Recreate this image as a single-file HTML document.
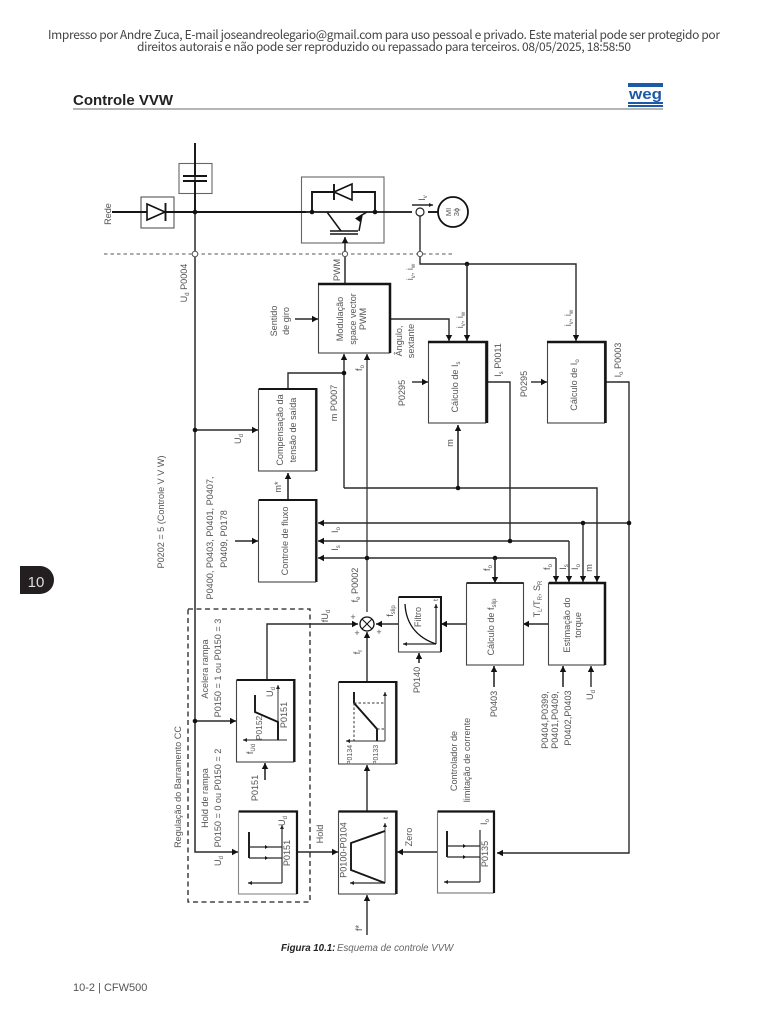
<!DOCTYPE html>
<html><head><meta charset="utf-8"><title>Controle VVW</title>
<style>
html,body{margin:0;padding:0;background:#fff}
svg{display:block}
.w{fill:none;stroke:#2a2a2a;stroke-width:1.4}
.t{fill:none;stroke:#151515;stroke-width:1.9}
.b{fill:#fff;stroke:#444;stroke-width:1.1}
.k{fill:#111;stroke:none}
text{font-family:"Liberation Sans",sans-serif;fill:#555;font-size:9.1px}
.c{text-anchor:middle}
</style></head><body>
<svg width="768" height="1024" viewBox="0 0 768 1024" xmlns="http://www.w3.org/2000/svg">
<defs>
<marker id="a" markerUnits="userSpaceOnUse" markerWidth="8" markerHeight="7" refX="6" refY="3.5" orient="auto"><path d="M0 0.300L6 3.500L0 6.700Z" fill="#111"/></marker>
<marker id="s" markerUnits="userSpaceOnUse" markerWidth="5" markerHeight="5" refX="4" refY="2.5" orient="auto"><path d="M0 0.500L4 2.500L0 4.500Z" fill="#222"/></marker>
</defs>

<!-- header -->
<text x="48" y="39" textLength="672" lengthAdjust="spacing" style='font-family:"Noto Sans CJK SC","Liberation Sans",sans-serif;font-size:12px;fill:#444'>Impresso por Andre Zuca, E-mail joseandreolegario@gmail.com para uso pessoal e privado. Este material pode ser protegido por</text>
<text x="137" y="51" textLength="494" lengthAdjust="spacing" style='font-family:"Noto Sans CJK SC","Liberation Sans",sans-serif;font-size:12px;fill:#444'>direitos autorais e não pode ser reproduzido ou repassado para terceiros. 08/05/2025, 18:58:50</text>
<text x="73" y="105" textLength="100" lengthAdjust="spacingAndGlyphs" style="font-size:14.500px;font-weight:bold;fill:#222">Controle VVW</text>
<rect x="73" y="108" width="590" height="2" fill="#b5b5b5"/>
<rect x="628" y="83" width="35" height="4" fill="#1c5aa8"/>
<rect x="628" y="102" width="35" height="2" fill="#1c5aa8"/>
<rect x="628" y="105" width="35" height="2" fill="#1c5aa8"/>
<text x="645.5" y="99" class="c" textLength="33" lengthAdjust="spacingAndGlyphs" style="font-size:15px;font-weight:bold;fill:#1c5aa8">weg</text>

<!-- side tab -->
<path d="M20 566H40A14 14 0 0 1 54 580A14 14 0 0 1 40 594H20Z" fill="#231f20"/>
<text x="36" y="587" class="c" style="font-size:15px;fill:#ddd">10</text>

<!-- dashed lines -->
<path d="M104 254H455" fill="none" stroke="#555" stroke-width="1" stroke-dasharray="3.5 3"/>
<rect x="188" y="609" width="122" height="293" fill="none" stroke="#222" stroke-width="1.3" stroke-dasharray="5 3.5"/>

<!-- power boxes -->
<rect x="179" y="163.500" width="33" height="30" class="b" style="stroke:#666"/>
<rect x="141" y="197" width="33" height="31" class="b" style="stroke:#555"/>
<rect x="301.500" y="177" width="82.500" height="66" class="b" style="stroke:#666"/>

<!-- main wires -->
<path d="M195 143V852H238" class="w" style="stroke-width:1.500" marker-end="url(#a)"/>
<path d="M112 212H306" class="t"/>
<path d="M306 212H412" class="t" style="stroke-width:1.7"/>
<path d="M428 212H438" class="t"/>
<!-- capacitor -->
<path d="M183 176H207M183 181H207" class="t"/>
<path d="M195 143V176M195 181V212" class="t"/>
<!-- diode -->
<path d="M147 204L165 212L147 220Z" fill="#fff" stroke="#111" stroke-width="1.6"/>
<path d="M165.500 203V221" class="t"/>
<circle cx="195" cy="212" r="2.300" class="k"/>
<circle cx="195" cy="254" r="2.800" fill="#fff" stroke="#555"/>

<!-- IGBT -->
<path d="M312 212V192H334M352 192H375V212" class="t"/>
<path d="M334 192L352 184V200Z" fill="#fff" stroke="#111" stroke-width="1.6"/>
<path d="M334 184V200" class="t"/>
<circle cx="312" cy="212" r="2.300" class="k"/><circle cx="375" cy="212" r="2.300" class="k"/>
<path d="M327 212L341 231M359 231L362 215L367 212" class="t" style="stroke-width:1.500"/>
<path d="M362 214L355 218.500L360 222Z" class="k"/>
<path d="M330 231H358M330 234H358" class="t" style="stroke-width:1.500"/>
<path d="M345 283V237" class="w" style="stroke-width:1.500" marker-end="url(#a)"/>
<circle cx="345" cy="254" r="2.600" fill="#fff" stroke="#555"/>

<!-- motor -->
<circle cx="420" cy="212" r="4" fill="#fff" stroke="#222" stroke-width="1.200"/>
<circle cx="453" cy="212" r="15" fill="#fff" stroke="#111" stroke-width="1.800"/>
<path d="M412 205H433" class="w" marker-end="url(#s)"/>
<path d="M420 216V264H576V341" class="w" marker-end="url(#a)"/>
<circle cx="420" cy="254" r="2.600" fill="#fff" stroke="#555"/>
<circle cx="467" cy="264" r="2.300" class="k"/>
<path d="M467 264V341" class="w" style="stroke-width:1.600" marker-end="url(#a)"/>
<path d="M390 319H449V341" class="w" marker-end="url(#a)"/>
<path d="M295 319H318" class="w" marker-end="url(#a)"/>

<!-- other wires -->
<path d="M288 389V373H344" class="w"/>
<path d="M344 488V354" class="w" marker-end="url(#a)"/>
<circle cx="344" cy="373" r="2.300" class="k"/>
<path d="M367 612V354" class="w" style="stroke:#444" marker-end="url(#a)"/>
<path d="M344 488H597V582" class="w" marker-end="url(#a)"/>
<path d="M458 488V425" class="w" style="stroke-width:1.600" marker-end="url(#a)"/>
<circle cx="458" cy="488" r="2.300" class="k"/>
<path d="M195 430H258" class="w" marker-end="url(#a)"/>
<circle cx="195" cy="430" r="2.300" class="k"/>
<path d="M288 500V473" class="w" style="stroke-width:1.600" marker-end="url(#a)"/>
<path d="M235 541H258" class="w" marker-end="url(#a)"/>
<path d="M488 382H510V541" class="w"/>
<path d="M606 382H629V853H497" class="w" marker-end="url(#a)"/>
<path d="M412 382H428" class="w" marker-end="url(#a)"/>
<path d="M531 382H547" class="w" marker-end="url(#a)"/>
<path d="M629 523H318" class="w" style="stroke-width:1.600" marker-end="url(#a)"/>
<path d="M583 523V582" class="w" marker-end="url(#a)"/>
<circle cx="583" cy="523" r="2.300" class="k"/><circle cx="629" cy="523" r="2.300" class="k"/>
<path d="M569 541H318" class="w" marker-end="url(#a)"/>
<path d="M569 541V582" class="w" marker-end="url(#a)"/>
<circle cx="510" cy="541" r="2.300" class="k"/>
<path d="M556 558H318" class="w" marker-end="url(#a)"/>
<path d="M556 558V582" class="w" marker-end="url(#a)"/>
<circle cx="367" cy="558" r="2.300" class="k"/>
<circle cx="495" cy="558" r="2.300" class="k"/>
<path d="M495 558V583" class="w" style="stroke-width:1.600" marker-end="url(#a)"/>
<path d="M267 680V624H358" class="w" marker-end="url(#a)"/>
<path d="M398 624H376" class="w" marker-end="url(#a)"/>
<path d="M466 624H441" class="w" marker-end="url(#a)"/>
<path d="M548 624H523" class="w" marker-end="url(#a)"/>
<path d="M494 687V666" class="w" style="stroke-width:1.600" marker-end="url(#a)"/>
<path d="M563 687V666" class="w" style="stroke-width:1.600" marker-end="url(#a)"/>
<path d="M591 687V666" class="w" marker-end="url(#a)"/>
<path d="M419 663V653" class="w" style="stroke-width:1.600" marker-end="url(#a)"/>
<path d="M195 721H236" class="w" marker-end="url(#a)"/>
<circle cx="195" cy="721" r="2.300" class="k"/>
<path d="M265 780V763" class="w" style="stroke-width:1.600" marker-end="url(#a)"/>
<path d="M297 852H338" class="w" style="stroke-width:1.600" marker-end="url(#a)"/>
<path d="M437 852H397" class="w" marker-end="url(#a)"/>
<path d="M367 811V765" class="w" marker-end="url(#a)"/>
<path d="M367 682V632" class="w" marker-end="url(#a)"/>
<path d="M367 935V895" class="w" marker-end="url(#a)"/>
<circle cx="367" cy="624" r="7" fill="#fff" stroke="#111" stroke-width="1.300"/>
<path d="M362 619L372 629M372 619L362 629" stroke="#111" stroke-width="1.100"/>

<!-- blocks: thin box + thick top and right -->
<g>
<rect x="318.500" y="284" width="71" height="69" class="b"/><path d="M318 284H390V353" class="t" style="stroke-width:2.500"/>
<rect x="428.500" y="342" width="57" height="81" class="b"/><path d="M428 342H487V423" class="t" style="stroke-width:2.500"/>
<rect x="547.500" y="342" width="57" height="81" class="b"/><path d="M547 342H605.500V423" class="t" style="stroke-width:2.500"/>
<rect x="258.500" y="389" width="57" height="82" class="b"/><path d="M259 389H316.500V471" class="t" style="stroke-width:2"/>
<rect x="258.500" y="500" width="57" height="82" class="b"/><path d="M259 500H316.500V582" class="t" style="stroke-width:2"/>
<rect x="466.500" y="583" width="57" height="82" class="b"/><path d="M467 583H523.500" class="t" style="stroke-width:1.800"/>
<rect x="548.500" y="583" width="56" height="82" class="b"/><path d="M549 583H605V665" class="t" style="stroke-width:2.500"/>
<rect x="398.500" y="597" width="42" height="55" class="b"/><path d="M399 597H441V652" class="t" style="stroke-width:2"/>
<rect x="236.500" y="680" width="57" height="82" class="b"/><path d="M237 680H294.500V762" class="t" style="stroke-width:2"/>
<rect x="338.500" y="682" width="57" height="82" class="b"/><path d="M339 682H396.500V764" class="t" style="stroke-width:2"/>
<rect x="238.500" y="811" width="58" height="83" class="b" style="stroke:#888"/><path d="M239 811.500H297V894" class="t" style="stroke-width:2.200"/>
<rect x="338.500" y="811" width="57" height="83" class="b"/><path d="M339 811.500H396.500V894" class="t" style="stroke-width:2.200"/>
<rect x="437.500" y="811" width="56" height="82" class="b" style="stroke:#777"/><path d="M438 811.500H494V893" class="t" style="stroke-width:2.200"/>
</g>

<!-- mini graphs -->
<!-- hold -->
<path d="M282 883H248" class="w" style="stroke-width:1.200" marker-end="url(#s)"/><path d="M282 883V825" class="w" style="stroke-width:1.200" marker-end="url(#s)"/>
<path d="M249 832V858" class="t"/>
<path d="M249 847H282M249 858H282" class="w" style="stroke-width:1.200"/>
<path d="M265 845L268 847L265 849ZM265 856L268 858L265 860Z" class="k"/>
<!-- ramp -->
<path d="M287 740H243" class="w" style="stroke-width:1.200;stroke:#555" marker-end="url(#s)"/><path d="M278 740V685" class="w" style="stroke-width:1.200;stroke:#555" marker-end="url(#s)"/>
<path d="M255 695V712L278 722V740" class="t"/>
<!-- limit -->
<path d="M385 741H346" class="w" style="stroke-width:1.200;stroke:#555" marker-end="url(#s)"/><path d="M385 741V692" class="w" style="stroke-width:1.200;stroke:#555" marker-end="url(#s)"/>
<path d="M354 692V703L377 729V741" class="t"/>
<path d="M354 703H385M377 729H385M354 703V741" fill="none" stroke="#333" stroke-dasharray="2.500 2"/>
<!-- trapezoid -->
<path d="M385 883H350" class="w" style="stroke-width:1.200" marker-end="url(#s)"/><path d="M385 883V823" class="w" style="stroke-width:1.100;stroke:#555" marker-end="url(#s)"/>
<path d="M385 831L351 843V870L385 883" class="t"/>
<!-- current -->
<path d="M480 882H444" class="w" style="stroke-width:1.200" marker-end="url(#s)"/><path d="M480 882V830" class="w" style="stroke-width:1.200"/>
<path d="M447 831V857" class="t"/>
<path d="M447 846H480M447 857H480" class="w" style="stroke-width:1.200"/>
<path d="M463 844L466 846L463 848ZM463 855L466 857L463 859Z" class="k"/>
<!-- filter -->
<path d="M436 644H403" class="w" style="stroke-width:1.200" marker-end="url(#s)"/><path d="M436 644V604" class="w" style="stroke-width:1.200" marker-end="url(#s)"/>
<path d="M405 604C406 625 418 638 436 644" fill="none" stroke="#111" stroke-width="1.300"/>

<!-- rotated labels -->
<g class="c">
<text class="c" transform="rotate(-90 111 214)" x="111" y="214">Rede</text>
<text class="c" transform="rotate(-90 187 283)" x="187" y="283">U<tspan font-size="6" dy="2">d</tspan><tspan dy="-2"> P0004</tspan></text>
<text class="c" transform="rotate(-90 277 321)" x="277" y="321">Sentido</text>
<text class="c" transform="rotate(-90 289 321)" x="289" y="321">de giro</text>
<text class="c" transform="rotate(-90 340 270)" x="340" y="270">PWM</text>
<text class="c" transform="rotate(-90 343 319)" x="343" y="319">Modulação</text>
<text class="c" transform="rotate(-90 356 319)" x="356" y="319">space vector</text>
<text class="c" transform="rotate(-90 366 319)" x="366" y="319">PWM</text>
<text class="c" transform="rotate(-90 402 341)" x="402" y="341">Ângulo,</text>
<text class="c" transform="rotate(-90 414 341)" x="414" y="341">sextante</text>
<text class="c" transform="rotate(-90 413 272)" x="413" y="272">i<tspan font-size="6" dy="2">v</tspan><tspan dy="-2">, i</tspan><tspan font-size="6" dy="2">w</tspan></text>
<text class="c" transform="rotate(-90 463 320)" x="463" y="320">i<tspan font-size="6" dy="2">v</tspan><tspan dy="-2">, i</tspan><tspan font-size="6" dy="2">w</tspan></text>
<text class="c" transform="rotate(-90 571 318)" x="571" y="318">i<tspan font-size="6" dy="2">v</tspan><tspan dy="-2">, i</tspan><tspan font-size="6" dy="2">w</tspan></text>
<text class="c" transform="rotate(-90 425 198)" x="425" y="198">I<tspan font-size="6" dy="2">v</tspan></text>
<text class="c" transform="rotate(-90 451 212)" x="451" y="212" style="font-size:7.500px">MI</text>
<text class="c" transform="rotate(-90 459 212)" x="459" y="212" style="font-size:7.500px">3ϕ</text>
<text class="c" transform="rotate(-90 283 430)" x="283" y="430">Compensação da</text>
<text class="c" transform="rotate(-90 296 430)" x="296" y="430">tensão de saída</text>
<text class="c" transform="rotate(-90 241 439)" x="241" y="439">U<tspan font-size="6" dy="2">d</tspan></text>
<text class="c" transform="rotate(-90 337 403)" x="337" y="403">m P0007</text>
<text class="c" transform="rotate(-90 362 368)" x="362" y="368">f<tspan font-size="6" dy="2">o</tspan></text>
<text class="c" transform="rotate(-90 281 487)" x="281" y="487">m*</text>
<text class="c" transform="rotate(-90 164 512)" x="164" y="512">P0202 = 5 (Controle V V W)</text>
<text class="c" transform="rotate(-90 213 538)" x="213" y="538">P0400, P0403, P0401, P0407,</text>
<text class="c" transform="rotate(-90 227 539)" x="227" y="539">P0409, P0178</text>
<text class="c" transform="rotate(-90 288 541)" x="288" y="541">Controle de fluxo</text>
<text class="c" transform="rotate(-90 338 530)" x="338" y="530">I<tspan font-size="6" dy="2">o</tspan></text>
<text class="c" transform="rotate(-90 338 548)" x="338" y="548">I<tspan font-size="6" dy="2">s</tspan></text>
<text class="c" transform="rotate(-90 358 585)" x="358" y="585">f<tspan font-size="6" dy="2">e</tspan><tspan dy="-2"> P0002</tspan></text>
<text class="c" transform="rotate(-90 328 616)" x="328" y="616">fU<tspan font-size="6" dy="2">d</tspan></text>
<text class="c" transform="rotate(-90 360 652)" x="360" y="652">f<tspan font-size="6" dy="2">r</tspan></text>
<text class="c" transform="rotate(-90 393 611)" x="393" y="611">f<tspan font-size="6" dy="2">slip</tspan></text>
<text class="c" transform="rotate(-90 420 680)" x="420" y="680">P0140</text>
<text class="c" transform="rotate(-90 421 617)" x="421" y="617">Filtro</text>
<text class="c" transform="rotate(-90 494 627)" x="494" y="627">Cálculo de f<tspan font-size="6" dy="2">slip</tspan></text>
<text class="c" transform="rotate(-90 490 568)" x="490" y="568">f<tspan font-size="6" dy="2">o</tspan></text>
<text class="c" transform="rotate(-90 540 599)" x="540" y="599">T<tspan font-size="6" dy="2">L</tspan><tspan dy="-2">/T</tspan><tspan font-size="6" dy="2">R</tspan><tspan dy="-2">, S</tspan><tspan font-size="6" dy="2">R</tspan></text>
<text class="c" transform="rotate(-90 550 567)" x="550" y="567">f<tspan font-size="6" dy="2">o</tspan></text>
<text class="c" transform="rotate(-90 566 567)" x="566" y="567">I<tspan font-size="6" dy="2">s</tspan></text>
<text class="c" transform="rotate(-90 578 567)" x="578" y="567">I<tspan font-size="6" dy="2">o</tspan></text>
<text class="c" transform="rotate(-90 592 568)" x="592" y="568">m</text>
<text class="c" transform="rotate(-90 570 625)" x="570" y="625">Estimação do</text>
<text class="c" transform="rotate(-90 581 625)" x="581" y="625">torque</text>
<text class="c" transform="rotate(-90 497 704)" x="497" y="704">P0403</text>
<text class="c" transform="rotate(-90 548 720)" x="548" y="720">P0404,P0399,</text>
<text class="c" transform="rotate(-90 558 720)" x="558" y="720">P0401,P0409,</text>
<text class="c" transform="rotate(-90 571 718)" x="571" y="718">P0402,P0403</text>
<text class="c" transform="rotate(-90 593 695)" x="593" y="695">U<tspan font-size="6" dy="2">d</tspan></text>
<text class="c" transform="rotate(-90 458 387)" x="458" y="387">Cálculo de I<tspan font-size="6" dy="2">s</tspan></text>
<text class="c" transform="rotate(-90 577 385)" x="577" y="385">Cálculo de I<tspan font-size="6" dy="2">o</tspan></text>
<text class="c" transform="rotate(-90 501 360)" x="501" y="360">I<tspan font-size="6" dy="2">s</tspan><tspan dy="-2">  P0011</tspan></text>
<text class="c" transform="rotate(-90 621 360)" x="621" y="360">I<tspan font-size="6" dy="2">o</tspan><tspan dy="-2">  P0003</tspan></text>
<text class="c" transform="rotate(-90 405 393)" x="405" y="393">P0295</text>
<text class="c" transform="rotate(-90 527 384)" x="527" y="384">P0295</text>
<text class="c" transform="rotate(-90 453 443)" x="453" y="443">m</text>
<text class="c" transform="rotate(-90 181 787)" x="181" y="787">Regulação do Barramento CC</text>
<text class="c" transform="rotate(-90 208 669)" x="208" y="669">Acelera rampa</text>
<text class="c" transform="rotate(-90 221 668)" x="221" y="668">P0150 = 1 ou P0150 = 3</text>
<text class="c" transform="rotate(-90 208 798)" x="208" y="798">Hold de rampa</text>
<text class="c" transform="rotate(-90 221 798)" x="221" y="798">P0150 = 0 ou P0150 = 2</text>
<text class="c" transform="rotate(-90 221 861)" x="221" y="861">U<tspan font-size="6" dy="2">d</tspan></text>
<text class="c" transform="rotate(-90 258 788)" x="258" y="788">P0151</text>
<text class="c" transform="rotate(-90 323 834)" x="323" y="834">Hold</text>
<text class="c" transform="rotate(-90 412 837)" x="412" y="837">Zero</text>
<text class="c" transform="rotate(-90 457 761)" x="457" y="761">Controlador de</text>
<text class="c" transform="rotate(-90 470 760)" x="470" y="760">limitação de corrente</text>
<text class="c" transform="rotate(-90 362 928)" x="362" y="928">f*</text>
<text class="c" transform="rotate(-90 290 853)" x="290" y="853">P0151</text>
<text class="c" transform="rotate(-90 285 821)" x="285" y="821">U<tspan font-size="6" dy="2">d</tspan></text>
<text class="c" transform="rotate(-90 287 715)" x="287" y="715">P0151</text>
<text class="c" transform="rotate(-90 262 728)" x="262" y="728" style="font-size:8.500px">P0152</text>
<text class="c" transform="rotate(-90 273 692)" x="273" y="692">U<tspan font-size="6" dy="2">d</tspan></text>
<text class="c" transform="rotate(-90 253 749)" x="253" y="749">f<tspan font-size="6" dy="2">Ud</tspan></text>
<text class="c" transform="rotate(-90 352 755)" x="352" y="755" style="font-size:7px">P0134</text>
<text class="c" transform="rotate(-90 378 755)" x="378" y="755" style="font-size:7px">P0133</text>
<text class="c" transform="rotate(-90 346.500 850)" x="346.500" y="850">P0100-P0104</text>
<text class="c" transform="rotate(-90 388 818)" x="388" y="818" style="font-size:7px">t</text>
<text class="c" transform="rotate(-90 488 854)" x="488" y="854">P0135</text>
<text class="c" transform="rotate(-90 487 822)" x="487" y="822">I<tspan font-size="6" dy="2">o</tspan></text>
<text class="c" transform="rotate(-90 438 600)" x="438" y="600" style="font-size:7px">t</text>
</g>
<g style="font-size:9px">
<text x="353" y="620" class="c">+</text>
<text x="357" y="636" class="c">+</text>
<text x="379" y="635" class="c">+</text>
</g>

<!-- caption and footer -->
<text x="281" y="951" style="font-size:9.700px;font-style:italic;font-weight:bold;fill:#222">Figura 10.1:</text>
<text x="337" y="951" style="font-size:9.700px;font-style:italic;fill:#666">Esquema de controle VVW</text>
<text x="73" y="991" style="font-size:11px;fill:#555">10-2 | CFW500</text>
</svg>
</body></html>
